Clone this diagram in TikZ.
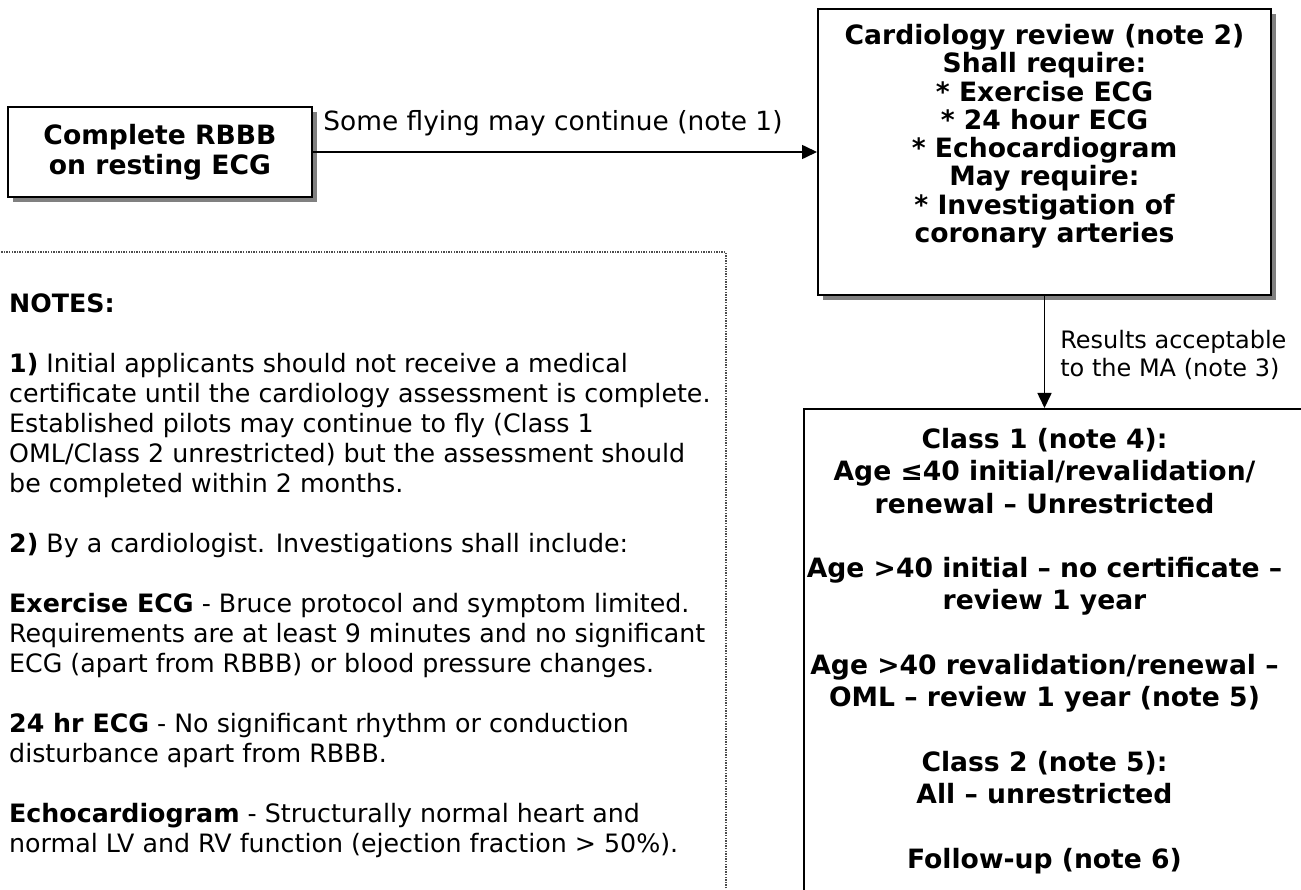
\documentclass[tikz,border=0pt]{standalone}
\usepackage{fontspec}
\setmainfont{DejaVu Sans}
\usetikzlibrary{arrows.meta, positioning, shadows}

\begin{document}
\begin{tikzpicture}[x=1pt, y=-1pt,
  shbox/.style={rectangle, draw, line width=2pt, fill=white,
                drop shadow={shadow xshift=5pt, shadow yshift=-5pt, fill=black!50, opacity=1}},
  plainbox/.style={rectangle, draw, line width=2pt, fill=white},
  notebox/.style={draw=black!70, line width=1.4pt, dash pattern=on 1.4pt off 1.2pt},
  boxtxt/.style={align=center, inner sep=0pt, font=\bfseries\fontsize{26.6}{28.3}\selectfont},
  clstxt/.style={align=center, inner sep=0pt, font=\bfseries\fontsize{26.6}{32.3}\selectfont},
  notetxt/.style={align=left, inner sep=0pt, font=\fontsize{25.3}{30}\selectfont},
  lbl/.style={align=left, inner sep=0pt, font=\fontsize{24}{28}\selectfont},
  arr/.style={-{Triangle[length=15pt, width=14pt]}, line width=1.6pt}
]
\useasboundingbox (0,0) rectangle (1301,890);
\clip (0,0) rectangle (1301,890);

\draw[notebox] (-20,252) rectangle (726,920);
\node[notetxt, anchor=north west] (notes) at (9,294) {%
\textbf{NOTES:}\\[30pt]
\textbf{1)} Initial applicants should not receive a medical\\
certificate until the cardiology assessment is complete.\\
Established pilots may continue to fly (Class 1\\
OML/Class 2 unrestricted) but the assessment should\\
be completed within 2 months.\\[30pt]
\textbf{2)} By a cardiologist. Investigations shall include:\\[30pt]
\textbf{Exercise ECG} - Bruce protocol and symptom limited.\\
Requirements are at least 9 minutes and no significant\\
ECG (apart from RBBB) or blood pressure changes.\\[30pt]
\textbf{24 hr ECG} - No significant rhythm or conduction\\
disturbance apart from RBBB.\\[30pt]
\textbf{Echocardiogram} - Structurally normal heart and\\
normal LV and RV function (ejection fraction > 50\%).};

\node[shbox, minimum width=304pt, minimum height=90pt, align=center,
      font=\bfseries\fontsize{26.6}{30}\selectfont] (rbbb) at (160,152)
  {Complete RBBB\\on resting ECG};
\node[shbox, minimum width=453pt, minimum height=286pt, right=504pt of rbbb] (card) {};
\node[boxtxt, below=16pt of card.north] (cardtxt) {%
Cardiology review (note 2)\\
Shall require:\\
* Exercise ECG\\
* 24 hour ECG\\
* Echocardiogram\\
May require:\\
* Investigation of\\
coronary arteries};

\node[plainbox, anchor=north west, minimum width=560pt, minimum height=540pt] (cls) at (803,408) {};
\coordinate (clstop) at (card.south |- cls.north);
\node[clstxt, below=20pt of clstop] (clsinfo) {%
Class 1 (note 4):\\
Age ≤40 initial/revalidation/\\
renewal – Unrestricted\\[32.3pt]
Age >40 initial – no certificate –\\
review 1 year\\[32.3pt]
Age >40 revalidation/renewal –\\
OML – review 1 year (note 5)\\[32.3pt]
Class 2 (note 5):\\
All – unrestricted\\[32.3pt]
Follow-up (note 6)};

\draw[arr] (rbbb) -- node[lbl, above=15pt, xshift=-12pt, font=\fontsize{26.4}{30}\selectfont] {Some flying may continue (note 1)} (card);
\draw[arr] (card) -- node[lbl, right=15pt, yshift=-3pt] {Results acceptable\\to the MA (note 3)} (clstop);
\end{tikzpicture}
\end{document}
